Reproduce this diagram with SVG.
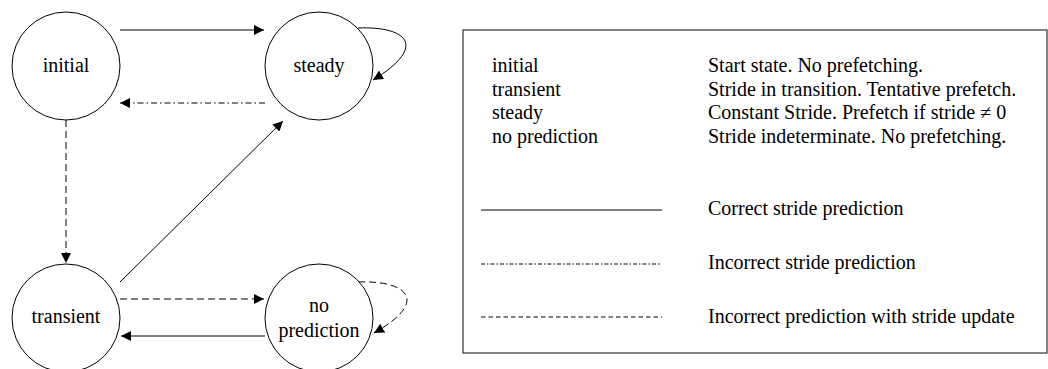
<svg xmlns="http://www.w3.org/2000/svg" width="1048" height="369" viewBox="0 0 1048 369">
<style>
.node{fill:#fff;stroke:#000;stroke-width:1}
.t{font-family:"Liberation Serif","Times New Roman",serif;font-size:20px;fill:#000}
.c{text-anchor:middle}
.e{fill:none;stroke:#000;stroke-width:1}
.dash{stroke-dasharray:7,4}
.dd{stroke-dasharray:6,3,1.5,3}
.ldash{stroke-dasharray:4.5,3}
.ldd{stroke-dasharray:4,2,1.5,2}
</style>
<defs>
<marker id="ah" markerUnits="userSpaceOnUse" markerWidth="10" markerHeight="10" refX="10" refY="5" orient="auto">
<path d="M0,0 L10,5 L0,10 z" fill="#000"/>
</marker>
</defs>
<g id="connectors">
<line class="e" x1="120" y1="30" x2="264" y2="30" marker-end="url(#ah)"/>
<line class="e dd" x1="265" y1="103" x2="120" y2="103" marker-end="url(#ah)"/>
<path class="e" d="M358,28 C405,26 430,45 373,80" marker-end="url(#ah)"/>
<line class="e dash" x1="66" y1="120" x2="66" y2="263" marker-end="url(#ah)"/>
<line class="e" x1="120" y1="282" x2="283" y2="121" marker-end="url(#ah)"/>
<line class="e dash" x1="120" y1="299" x2="264" y2="299" marker-end="url(#ah)"/>
<line class="e" x1="265" y1="336" x2="121" y2="336" marker-end="url(#ah)"/>
<path class="e dash" d="M358,282 C405,280 432,300 374,333" marker-end="url(#ah)"/>
</g>
<g id="initial">
<circle class="node" cx="66" cy="66" r="54"/>
<text class="t c" x="66" y="72">initial</text>
</g>
<g id="steady">
<circle class="node" cx="319" cy="66" r="54"/>
<text class="t c" x="319" y="72">steady</text>
</g>
<g id="transient">
<circle class="node" cx="66" cy="318" r="54"/>
<text class="t c" x="66" y="323">transient</text>
</g>
<g id="no-prediction">
<circle class="node" cx="319" cy="318" r="54"/>
<text class="t c" x="319" y="312">no</text>
<text class="t c" x="319" y="337">prediction</text>
</g>
<g id="legend">
<rect x="463" y="30" width="584" height="323" fill="none" stroke="#333" stroke-width="1.2"/>
<text class="t" x="492" y="72">initial</text>
<text class="t" x="492" y="95.5">transient</text>
<text class="t" x="492" y="119">steady</text>
<text class="t" x="492" y="142.5">no prediction</text>
<text class="t" x="708" y="72">Start state. No prefetching.</text>
<text class="t" x="708" y="95.5">Stride in transition. Tentative prefetch.</text>
<text class="t" x="708" y="119">Constant Stride. Prefetch if stride ≠ 0</text>
<text class="t" x="708" y="142.5">Stride indeterminate. No prefetching.</text>
<line class="e" x1="481" y1="210" x2="662" y2="210"/>
<line class="e ldd" x1="481" y1="264" x2="661" y2="264"/>
<line class="e ldash" x1="481" y1="317" x2="662" y2="317"/>
<text class="t" x="708" y="215">Correct stride prediction</text>
<text class="t" x="708" y="269">Incorrect stride prediction</text>
<text class="t" x="708" y="323">Incorrect prediction with stride update</text>
</g>
</svg>
